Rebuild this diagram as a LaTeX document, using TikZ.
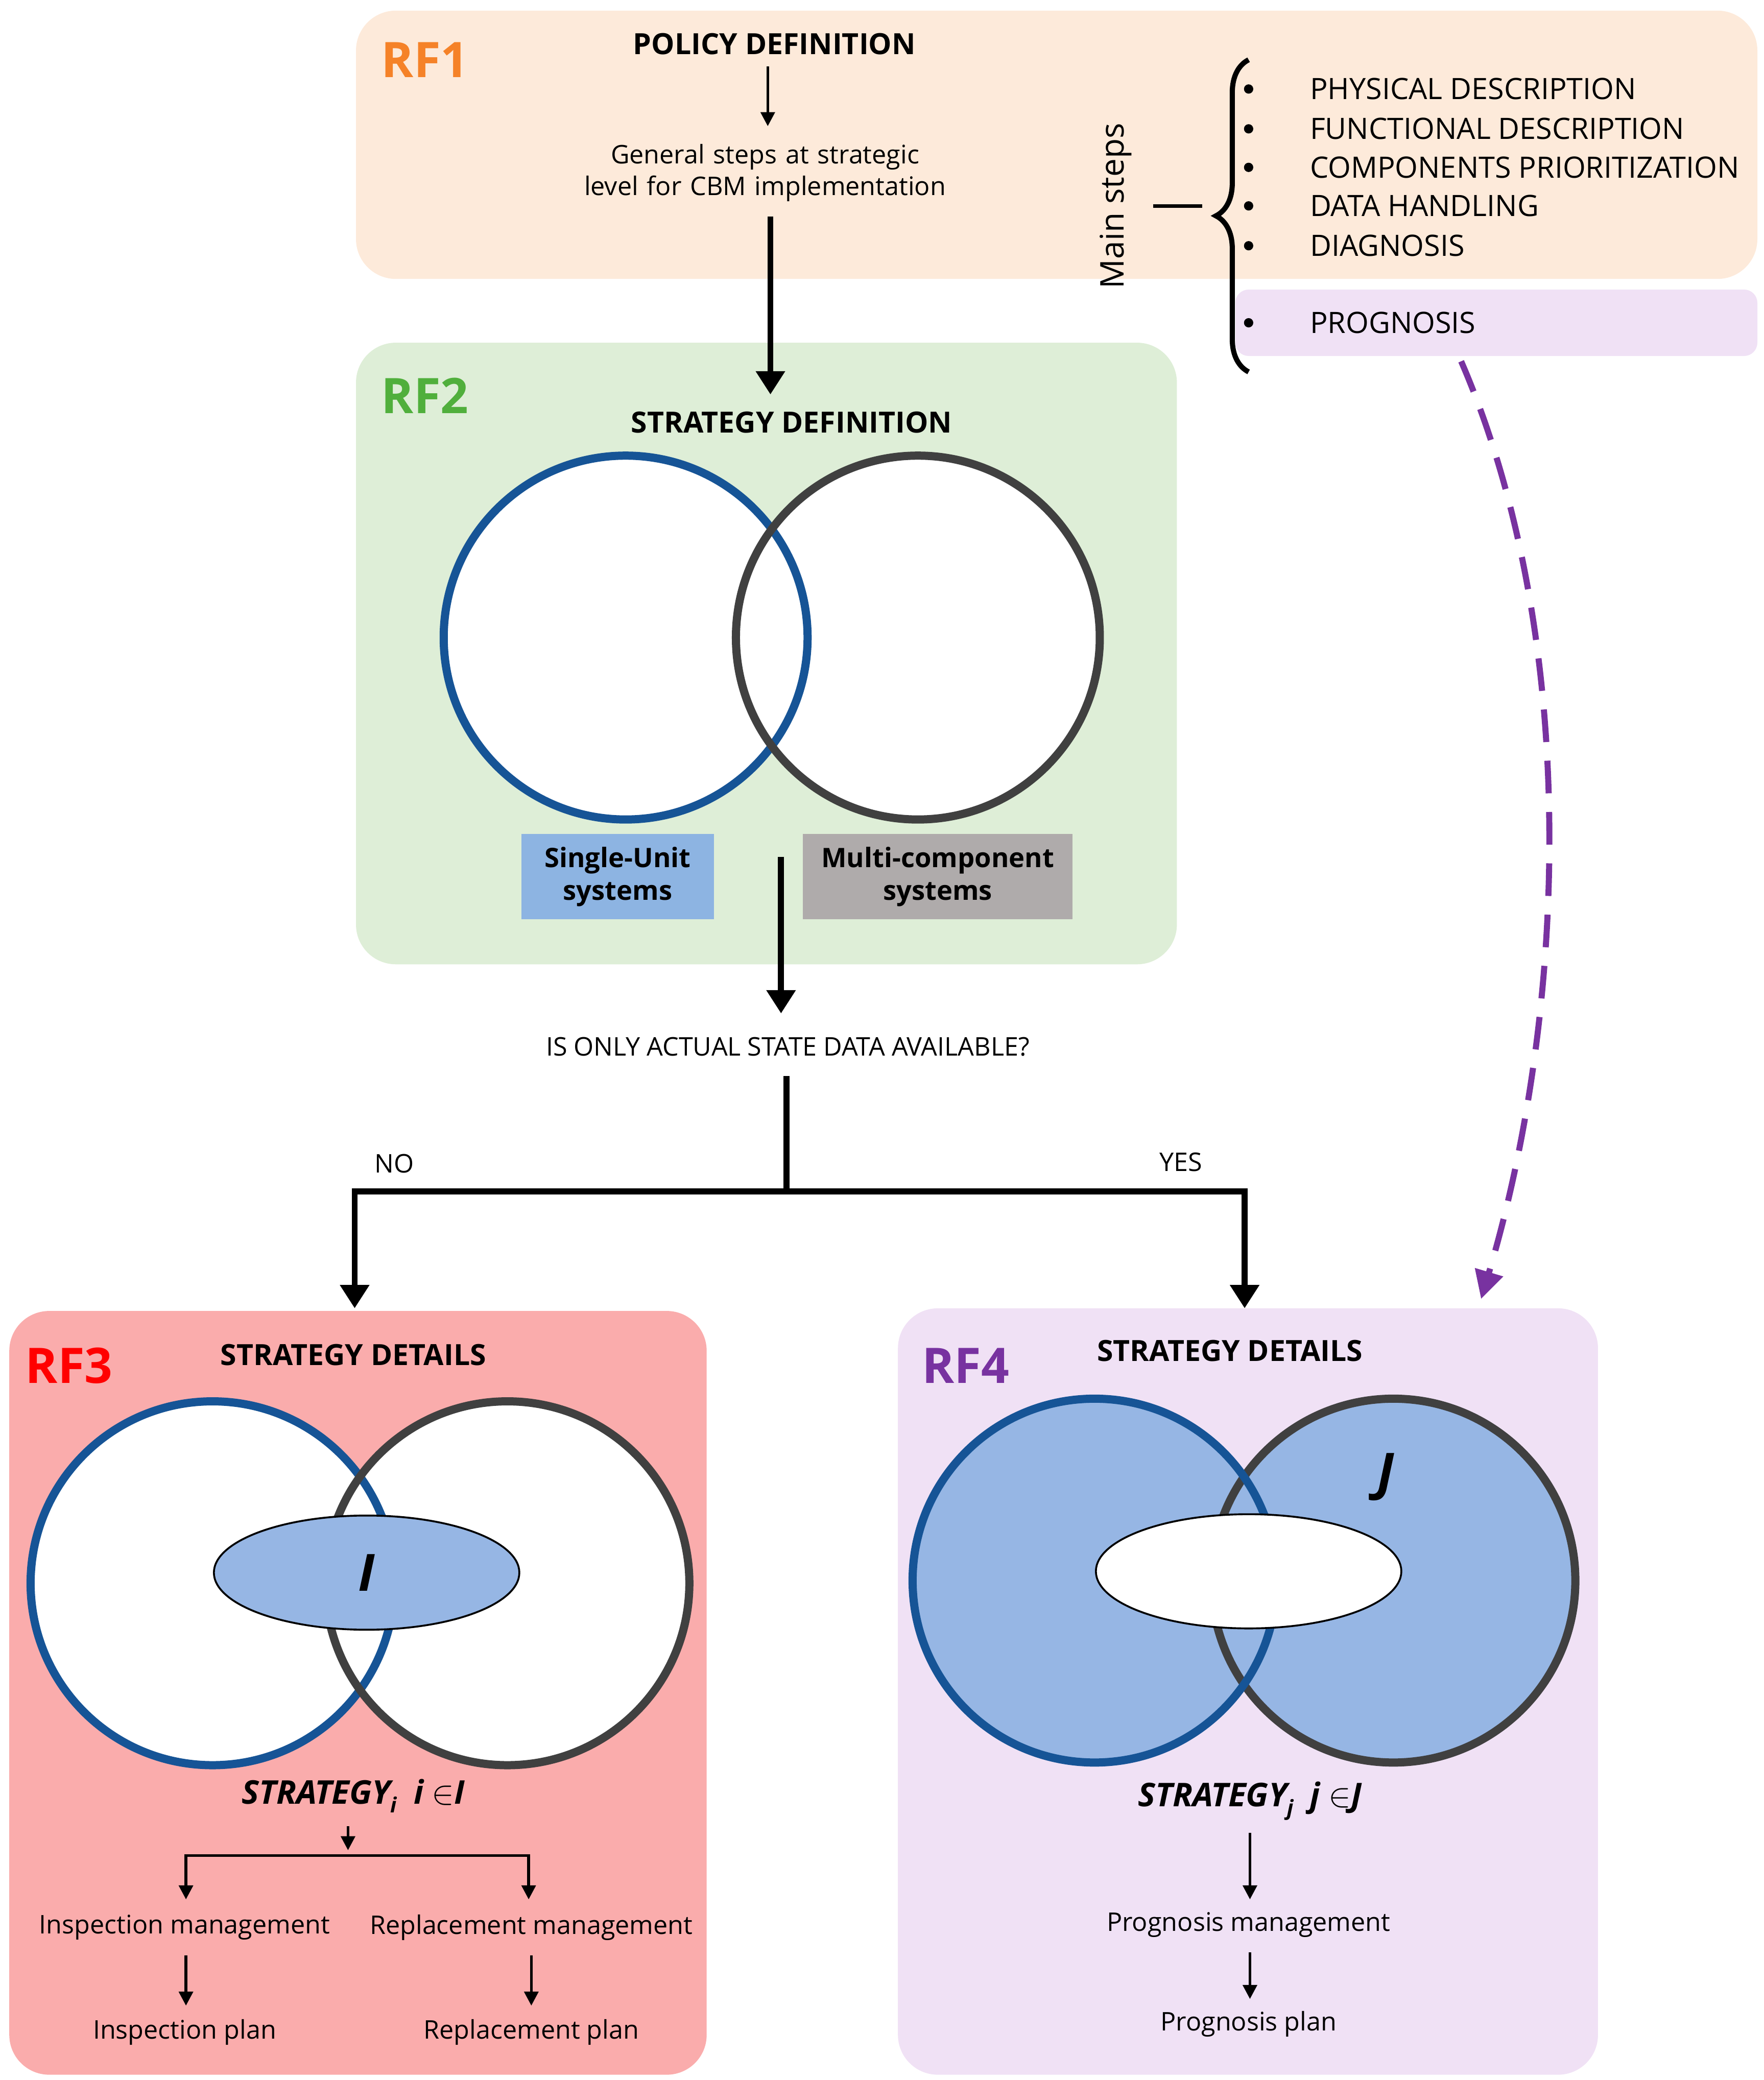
\documentclass[tikz,border=0pt]{standalone}
\usepackage{fontspec}
\setmainfont{Open Sans}
\usetikzlibrary{positioning,arrows.meta,shapes.geometric,decorations.pathreplacing}
\definecolor{peach}{RGB}{253,234,218}
\definecolor{lav}{RGB}{240,225,245}
\definecolor{mint}{RGB}{222,238,215}
\definecolor{rose}{RGB}{250,172,172}
\definecolor{ublue}{RGB}{141,180,226}
\definecolor{mgrey}{RGB}{175,171,171}
\definecolor{dotblue}{RGB}{150,182,228}
\definecolor{cblue}{RGB}{22,84,150}
\definecolor{cgrey}{RGB}{64,64,64}
\definecolor{rfor}{RGB}{245,130,40}
\definecolor{rfgr}{RGB}{80,175,60}
\definecolor{rfpu}{RGB}{120,50,160}

\begin{document}
\begin{tikzpicture}[x=0.02cm,y=-0.02cm,
   panel/.style={rounded corners=0.6cm},
   rflabel/.style={font=\fontsize{21}{24}\selectfont\bfseries},
   head/.style={font=\fontsize{12.5}{15}\selectfont\bfseries},
   txt/.style={font=\fontsize{11}{13.5}\selectfont,align=center},
   item/.style={font=\fontsize{12.6}{15}\selectfont,anchor=west},
   thick arrow/.style={line width=2.6pt,-{Triangle[length=10pt,width=12pt]}},
   thin arrow/.style={line width=1.2pt,-{Triangle[length=6pt,width=6pt]}},
   bluering/.style={draw=cblue,line width=3.5pt},
   greyring/.style={draw=cgrey,line width=3.5pt}]
   \useasboundingbox (0,0) rectangle (1328,1566);
   % panels
   \fill[peach,panel] (268,8) rectangle (1323,210);
   \fill[lav,rounded corners=0.2cm] (930,218) rectangle (1323,268);
   \fill[mint,panel] (268,258) rectangle (886,726);
   \fill[rose,panel] (7,987) rectangle (532,1562);
   \fill[lav,panel] (676,985) rectangle (1203,1562);
   % RF1
   \node[rflabel,text=rfor] (rf1) at (320,45) {RF1};
   \node[head] (policy) at (583,33) {POLICY DEFINITION};
   \node[txt,text width=8.6cm] (general) at (576,130) {General steps at strategic level for CBM implementation};
   \draw[thin arrow] (578,50) -- (578,95);
   \draw[decorate,decoration={brace,amplitude=14pt,mirror},line width=2.2pt] (940,45) -- (940,280);
   \node[font=\fontsize{14}{16}\selectfont,rotate=90] (mainsteps) at (840,155) {Main steps};
   \draw[line width=1.5pt] (868,155) -- (905,155);
   \foreach \y/\t in {67/PHYSICAL DESCRIPTION,97/FUNCTIONAL DESCRIPTION,126/COMPONENTS PRIORITIZATION,155/DATA HANDLING,185/DIAGNOSIS,243/PROGNOSIS}{
     \fill (940,\y) circle[radius=0.07cm];
     \node[item] at (980,\y) {\t};
   }
   \coordinate (progn) at (1100,272);
   % RF2
   \node[rflabel,text=rfgr] (rf2) at (320,298) {RF2};
   \node[head] (stratdef) at (596,318) {STRATEGY DEFINITION};
   \draw[thick arrow] (580,163) -- (580,297);
   \fill[white] (471,480) circle[radius=2.74cm] (691,480) circle[radius=2.74cm];
   \draw[bluering] (471,480) circle[radius=2.74cm];
   \draw[greyring] (691,480) circle[radius=2.74cm];
   \node[fill=ublue,align=center,minimum width=2.9cm,minimum height=1.28cm,font=\fontsize{11.5}{14}\selectfont\bfseries] (single) at (465,660) {Single-Unit\\systems};
   \node[fill=mgrey,align=center,minimum width=4.06cm,minimum height=1.28cm,font=\fontsize{11.5}{14}\selectfont\bfseries] (multi) at (706,660) {Multi-component\\systems};
   % decision
   \node[txt] (question) at (593,788) {IS ONLY ACTUAL STATE DATA AVAILABLE?};
   \draw[thick arrow] (588,645) -- (588,763);
   \coordinate (split) at (592,897);
   \draw[line width=2.6pt] (592,810) -- (split);
   \draw[thick arrow] (split) -| (267,985);
   \draw[thick arrow] (split) -| (937,985);
   \node[txt] (no) at (297,876) {NO};
   \node[txt] (yes) at (889,875) {YES};
   % RF3
   \node[rflabel,text=red] (rf3) at (52,1028) {RF3};
   \node[head] (det3) at (266,1020) {STRATEGY DETAILS};
   \fill[white] (160,1192) circle[radius=2.74cm] (382,1192) circle[radius=2.74cm];
   \draw[bluering] (160,1192) circle[radius=2.74cm];
   \draw[greyring] (382,1192) circle[radius=2.74cm];
   \node[ellipse,draw=black,line width=0.8pt,fill=dotblue,minimum width=4.6cm,minimum height=1.72cm] (setI) at (276,1184) {};
   \node[font=\fontsize{22}{24}\selectfont\bfseries\itshape] at (setI) {I};
   \node[font=\fontsize{14}{16}\selectfont\bfseries\itshape] (strati) at (266,1352) {STRATEGY\raisebox{-0.5ex}{\fontsize{9}{10}\selectfont i} \ i $\in$I};
   \coordinate (fork3) at (262,1397);
   \draw[thin arrow] (262,1375) -- (262,1393);
   \node[txt] (inspm) at (139,1451) {Inspection management};
   \node[txt] (replm) at (400,1451) {Replacement management};
   \draw[line width=1.2pt] (140,1397) -- (398,1397);
   \draw[thin arrow] (140,1396) -- (140,1430);
   \draw[thin arrow] (398,1396) -- (398,1430);
   \node[txt] (inspp) at (139,1530) {Inspection plan};
   \node[txt] (replp) at (400,1530) {Replacement plan};
   \draw[thin arrow] (140,1472) -- (140,1510);
   \draw[thin arrow] (400,1472) -- (400,1510);
   % RF4
   \node[rflabel,text=rfpu] (rf4) at (727,1028) {RF4};
   \node[head] (det4) at (926,1017) {STRATEGY DETAILS};
   \fill[dotblue] (824,1190) circle[radius=2.74cm];
   \fill[dotblue] (1049,1190) circle[radius=2.74cm];
   \draw[greyring] (1049,1190) circle[radius=2.74cm];
   \draw[bluering] (824,1190) circle[radius=2.74cm];
   \node[ellipse,draw=black,line width=0.8pt,fill=white,minimum width=4.6cm,minimum height=1.72cm] (setJ) at (940,1183) {};
   \node[font=\fontsize{22}{24}\selectfont\bfseries\itshape] (labJ) at (1043,1112) {J};
   \node[font=\fontsize{14}{16}\selectfont\bfseries\itshape] (stratj) at (941,1356) {STRATEGY\raisebox{-0.5ex}{\fontsize{9}{10}\selectfont j} \ j $\in$J};
   \node[txt] (progm) at (940,1449) {Prognosis management};
   \node[txt] (progp) at (940,1524) {Prognosis plan};
   \draw[thin arrow] (941,1380) -- (941,1430);
   \draw[thin arrow] (941,1470) -- (941,1505);
   % prognosis link
   \draw[rfpu,line width=2.6pt,dash pattern=on 14pt off 8pt,-{Triangle[length=12pt,width=12pt]}]
     (progn) .. controls (1190,480) and (1180,760) .. (1115,978);
\end{tikzpicture}
\end{document}
